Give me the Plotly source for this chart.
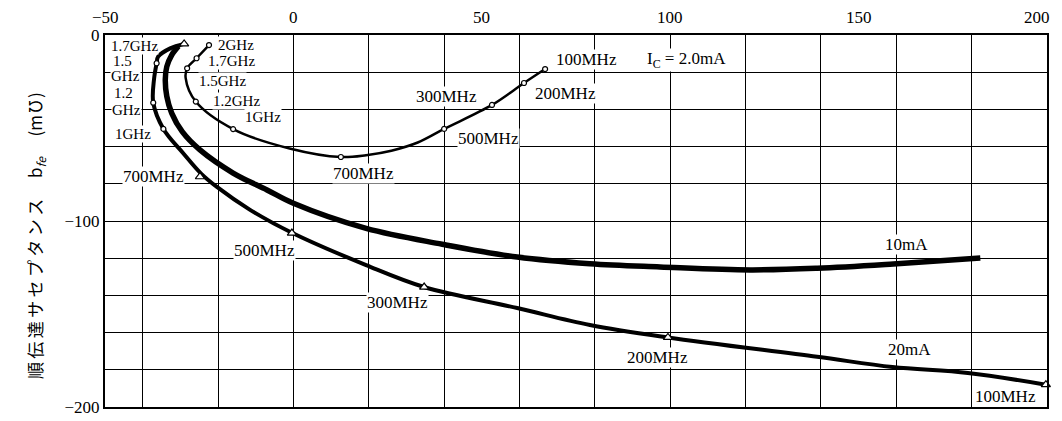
import plotly.graph_objects as go

# ---------------- data ----------------
# Ic = 2.0 mA curve (line points)
ic2_x = [-22.4, -25.7, -28.2, -28.6, -25.9, -16.0, -1.0, 12.6, 19.3, 26.0, 33.0, 40.0, 52.7, 61.2, 66.8]
ic2_y = [-5.4, -12.5, -17.9, -23.0, -35.8, -50.6, -61.0, -65.6, -64.6, -62.2, -57.8, -50.5, -37.6, -25.8, -18.3]
# Ic = 2.0 mA frequency points
ic2_fx = [-22.4, -25.7, -28.2, -25.9, -16.0, 12.6, 40.0, 52.7, 61.2, 66.8]
ic2_fy = [-5.4, -12.5, -17.9, -35.8, -50.6, -65.6, -50.5, -37.6, -25.8, -18.3]

# Ic = 10 mA curve
ic10_x = [-30.5, -32.3, -33.6, -34.0, -33.6, -32.3, -29.5, -24.8, -16.0, -7.0, 0.0, 19.3, 39.5,
          59.4, 78.7, 97.3, 121.2, 139.0, 159.2, 182.3]
ic10_y = [-6.0, -10.8, -17.0, -24.0, -33.0, -42.0, -52.0, -61.8, -74.2, -83.3, -90.5, -104.0, -112.5,
          -119.4, -123.0, -124.7, -126.3, -125.4, -123.1, -119.9]

# Ic = 20 mA curve
ic20_x = [-29.0, -32.7, -35.9, -36.3, -37.0, -37.2, -34.5, -29.3, -24.5, -20.3, -11.5, -0.4, 19.3,
          34.7, 59.4, 78.7, 99.4, 139.0, 159.0, 179.0, 199.7]
ic20_y = [-4.8, -7.2, -11.6, -15.2, -24.0, -36.4, -50.5, -63.4, -74.5, -81.7, -94.0, -106.3, -123.7,
          -135.5, -146.8, -155.9, -162.6, -173.0, -178.5, -181.7, -188.0]
# Ic = 20 mA frequency points (triangles)
ic20_tx = [-29.0, -24.8, -0.4, 34.7, 99.4, 199.7]
ic20_ty = [-4.8, -76.2, -106.5, -135.5, -162.6, -188.0]
# Ic = 20 mA frequency points (small circles)
ic20_cx = [-36.3, -37.2, -34.5]
ic20_cy = [-15.2, -36.4, -50.5]

# text labels (crowded stacks near the top-left corner)
small_text = ["1.7GHz", "1.5", "GHz", "1.2", "GHz", "1GHz",
              "2GHz", "1.7GHz", "1.5GHz", "1.2GHz", "1GHz"]
small_x = [-42.3, -45.3, -44.6, -45.0, -44.4, -42.6,
           -15.2, -16.3, -18.9, -15.0, -8.0]
small_y = [-5.9, -14.0, -21.9, -31.0, -40.5, -53.0,
           -5.6, -14.2, -24.7, -35.5, -44.0]
# other text labels
label_text = ["700MHz", "500MHz", "300MHz", "200MHz", "100MHz", "I<sub>C</sub> = 2.0mA",
              "700MHz", "500MHz", "300MHz", "200MHz", "100MHz", "10mA", "20mA"]
label_x = [18.5, 51.9, 40.6, 72.1, 77.9, 104.4,
           -37.0, -7.7, 27.5, 96.6, 188.9, 162.6, 163.6]
label_y = [-74.2, -55.4, -33.3, -31.7, -13.4, -13.4,
           -76.0, -115.6, -144.0, -173.6, -194.6, -112.5, -169.0]

x_tick_vals = [-50, 0, 50, 100, 150, 200]
x_tick_text = ["−50", "0", "50", "100", "150", "200"]
y_tick_vals = [-200, -100, 0]
y_tick_text = ["−200", "−100", "0"]
x_grid_vals = list(range(-40, 201, 20))

SERIF = "Liberation Serif"
fig = go.Figure()

fig.add_trace(go.Scatter(x=ic2_x, y=ic2_y, mode="lines", line=dict(color="black", width=2.5, shape="spline"),
                         showlegend=False, hoverinfo="skip"))
fig.add_trace(go.Scatter(x=ic2_fx, y=ic2_fy, mode="markers",
                         marker=dict(symbol="circle", size=5, color="white", line=dict(color="black", width=1.2)),
                         showlegend=False))
fig.add_trace(go.Scatter(x=ic10_x, y=ic10_y, mode="lines", line=dict(color="black", width=5.5, shape="spline"),
                         showlegend=False, hoverinfo="skip"))
fig.add_trace(go.Scatter(x=ic20_x, y=ic20_y, mode="lines", line=dict(color="black", width=4, shape="spline"),
                         showlegend=False, hoverinfo="skip"))
fig.add_trace(go.Scatter(x=ic20_tx, y=ic20_ty, mode="markers", cliponaxis=False,
                         marker=dict(symbol="triangle-up", size=8, color="white", line=dict(color="black", width=1.2)),
                         showlegend=False))
fig.add_trace(go.Scatter(x=ic20_cx, y=ic20_cy, mode="markers",
                         marker=dict(symbol="circle", size=5, color="white", line=dict(color="black", width=1.2)),
                         showlegend=False))

for t, x, y in zip(small_text, small_x, small_y):
    fig.add_annotation(x=x, y=y, text=t, showarrow=False, xanchor="center", yanchor="middle",
                       font=dict(family=SERIF, size=15, color="black"), bgcolor="white", borderpad=0)
for t, x, y in zip(label_text, label_x, label_y):
    fig.add_annotation(x=x, y=y, text=t, showarrow=False, xanchor="center", yanchor="middle",
                       font=dict(family=SERIF, size=17, color="black"), bgcolor="white", borderpad=0)

# top x tick labels
for v, t in zip(x_tick_vals, x_tick_text):
    fig.add_annotation(x=v, y=1, xref="x", yref="paper", text=t, showarrow=False, yanchor="bottom",
                       xanchor="center", yshift=6, xshift=-10 if v == 200 else 0,
                       font=dict(family=SERIF, size=17, color="black"))

# y title
fig.add_annotation(x=-0.0902, y=0.461, xref="paper", yref="paper", textangle=-90, showarrow=False,
                   text="順\u2009伝\u2009達\u2009サ\u2009セ\u2009プ\u2009タ\u2009ン\u2009ス　 b<sub><i>fe</i></sub>　 (m℧)",
                   font=dict(family="Noto Sans CJK JP", size=17, color="black"))

fig.update_xaxes(range=[-50, 200], tickvals=x_grid_vals, showticklabels=False, ticks="",
                 showgrid=True, gridcolor="black", gridwidth=1.3, zeroline=False,
                 showline=True, linecolor="black", linewidth=2, mirror=True)
fig.update_yaxes(range=[-200, 0], tickvals=y_tick_vals, ticktext=y_tick_text, ticks="",
                 ticklabeloverflow="allow", automargin=False,
                 showgrid=True, gridcolor="black", gridwidth=1.3, zeroline=False,
                 minor=dict(dtick=20, tick0=0, showgrid=True, gridcolor="black", gridwidth=1.3, ticks=""),
                 showline=True, linecolor="black", linewidth=2, mirror=True,
                 tickfont=dict(family=SERIF, size=17, color="black"))

# the page body has an 8px margin; size/place the figure so the plot lands on the reference pixels
fig.update_layout(width=1046, height=413, margin=dict(l=97, r=7, t=27, b=14, autoexpand=False),
                  paper_bgcolor="white", plot_bgcolor="white")

fig.write_html("out.html")
